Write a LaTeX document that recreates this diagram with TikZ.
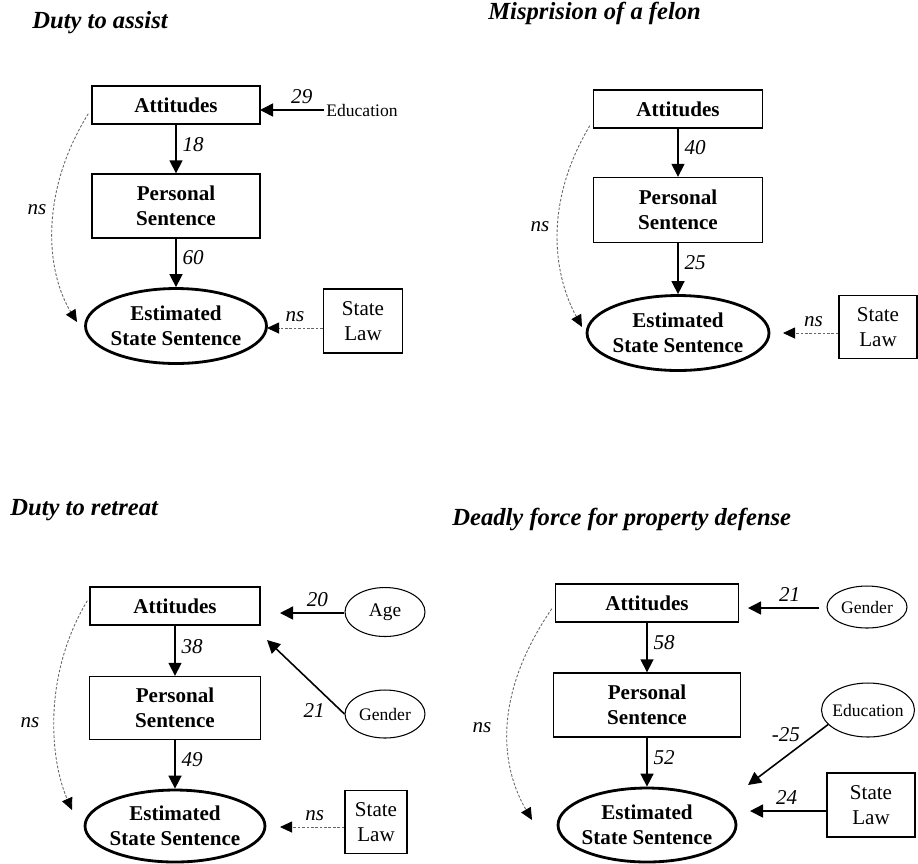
\documentclass[tikz,border=0pt]{standalone}
\usepackage{fontspec}
\setmainfont{Liberation Serif}
\usetikzlibrary{arrows.meta,shapes.geometric}

\begin{document}
\begin{tikzpicture}[x=0.02cm, y=-0.02cm,
    every node/.style={font=\fontsize{12}{14.2}\selectfont},
    attbox/.style={draw, line width=0.8pt, align=center, inner sep=0pt, font=\fontsize{12}{14.2}\selectfont\bfseries},
    lawbox/.style={draw, line width=0.8pt, align=center, inner sep=0pt},
    est/.style={ellipse, draw, line width=1.6pt, align=center, inner xsep=-2pt, inner ysep=0pt, font=\fontsize{12}{14.2}\selectfont\bfseries},
    extvar/.style={ellipse, draw, line width=0.6pt, inner xsep=-3pt, inner ysep=0pt, font=\fontsize{10}{12}\selectfont},
    link/.style={-{Triangle[length=0.26cm, width=0.26cm]}, line width=0.9pt},
    nsline/.style={-{Triangle[length=0.24cm, width=0.22cm, color=black]}, draw=black!60, line width=0.5pt, dash pattern=on 1.5pt off 1pt},
    coef/.style={font=\fontsize{12}{14.2}\selectfont\itshape},
    paneltitle/.style={anchor=base west, inner sep=0pt, font=\fontsize{14}{16}\selectfont\bfseries\itshape}]
    \useasboundingbox (0,0) rectangle (918,863);

    \node[paneltitle] (title1) at (32,28) {Duty to assist};
    \node[attbox, minimum width=3.36cm, minimum height=0.76cm] (att1) at (176,105) {Attitudes};
    \node[attbox, minimum width=3.36cm, minimum height=1.28cm] (pers1) at (176,206) {Personal\\Sentence};
    \node[est, minimum width=3.62cm, minimum height=1.5cm] (est1) at (176,326) {Estimated\\State Sentence};
    \node[lawbox, minimum width=1.58cm, minimum height=1.28cm] (law1) at (363,321) {State\\Law};
    \node[inner sep=1pt, font=\fontsize{10}{12}\selectfont] (edu1) at (362,110) {Education};
    \node[coef] (ns1) at (37,210) {ns};
    \coordinate (t1edu) at (260,110);
    \coordinate (t1law) at (267,328);
    \coordinate (t1ns) at (77,322);
    \draw[link] (edu1.west) -- (t1edu) node[coef, above, pos=0.35] (c1edu) {29};
    \draw[link] (att1) -- (pers1) node[coef, right, pos=0.4] (c1a) {18};
    \draw[link] (pers1) -- (est1) node[coef, right, pos=0.4] (c1b) {60};
    \draw[nsline] (law1.west |- t1law) -- (t1law) node[coef, above, pos=0.5] (c1law) {ns};
    \draw[nsline] ([shift={(-3,-11)}]att1.south west) .. controls +(-48,77) and +(-32,-52) .. (t1ns);

    \node[paneltitle] (title2) at (488,19) {Misprision of a felon};
    \node[attbox, minimum width=3.38cm, minimum height=0.76cm] (att2) at (678,109) {Attitudes};
    \node[attbox, minimum width=3.38cm, minimum height=1.3cm] (pers2) at (678,210) {Personal\\Sentence};
    \node[est, minimum width=3.64cm, minimum height=1.5cm] (est2) at (678,333) {Estimated\\State Sentence};
    \node[lawbox, minimum width=1.56cm, minimum height=1.26cm] (law2) at (878,327) {State\\Law};
    \node[coef] (ns2) at (540,227) {ns};
    \coordinate (t2law) at (783,333);
    \coordinate (t2ns) at (582,327);
    \draw[link] (att2) -- (pers2) node[coef, right, pos=0.4] (c2a) {40};
    \draw[link] (pers2) -- (est2) node[coef, right, pos=0.38] (c2b) {25};
    \draw[nsline] (law2.west |- t2law) -- (t2law) node[coef, above, pos=0.45] (c2law) {ns};
    \draw[nsline] ([shift={(-3,-3)}]att2.south west) .. controls +(-45,75) and +(-30,-55) .. (t2ns);

    \node[paneltitle] (title3) at (10,515) {Duty to retreat};
    \node[attbox, minimum width=3.4cm, minimum height=0.76cm] (att3) at (175,606) {Attitudes};
    \node[attbox, minimum width=3.42cm, minimum height=1.26cm] (pers3) at (175,708) {Personal\\Sentence};
    \node[est, minimum width=3.6cm, minimum height=1.44cm] (est3) at (175,826) {Estimated\\State Sentence};
    \node[extvar, minimum width=1.6cm, minimum height=0.98cm, font=\fontsize{11}{13}\selectfont] (age3) at (385,612) {Age};
    \node[extvar, minimum width=1.6cm, minimum height=0.96cm] (gen3) at (385,714) {Gender};
    \node[lawbox, minimum width=1.24cm, minimum height=1.26cm] (law3) at (376,822) {State\\Law};
    \node[coef] (ns3) at (30,723) {ns};
    \coordinate (t3age) at (280,613);
    \coordinate (t3gen) at (267,640);
    \coordinate (t3law) at (280,827);
    \coordinate (t3ns) at (72,810);
    \draw[link] (att3) -- (pers3) node[coef, right, pos=0.42] (c3a) {38};
    \draw[link] (pers3) -- (est3) node[coef, right, pos=0.4] (c3b) {49};
    \draw[link] (age3.west |- t3age) -- (t3age) node[coef, above, pos=0.42] (c3age) {20};
    \draw[link] (gen3.west) -- (t3gen) node[coef, anchor=north east, inner sep=2pt, pos=0.2] (c3gen) {21};
    \draw[nsline] (law3.west |- t3law) -- (t3law) node[coef, above, pos=0.46] (c3law) {ns};
    \draw[nsline] ([shift={(-2,-25)}]att3.south west) .. controls +(-45,75) and +(-22,-50) .. (t3ns);

    \node[paneltitle] (title4) at (452,525) {Deadly force for property defense};
    \node[attbox, minimum width=3.66cm, minimum height=0.76cm] (att4) at (647,603) {Attitudes};
    \node[attbox, minimum width=3.74cm, minimum height=1.28cm] (pers4) at (647,705) {Personal\\Sentence};
    \node[est, minimum width=3.56cm, minimum height=1.48cm] (est4) at (647,825) {Estimated\\State Sentence};
    \node[extvar, minimum width=1.6cm, minimum height=0.84cm] (gen4) at (867,607) {Gender};
    \node[extvar, minimum width=1.86cm, minimum height=1.08cm] (edu4) at (868,710) {Education};
    \node[lawbox, minimum width=1.76cm, minimum height=1.28cm] (law4) at (871,805) {State\\Law};
    \node[coef] (ns4) at (482,728) {ns};
    \coordinate (t4gen) at (748,608);
    \coordinate (t4edu) at (748,785);
    \coordinate (t4law) at (750,811);
    \coordinate (t4ns) at (532,820);
    \draw[link] (att4) -- (pers4) node[coef, right, pos=0.4] (c4a) {58};
    \draw[link] (pers4) -- (est4) node[coef, right, pos=0.4] (c4b) {52};
    \draw[link, shorten <=0.14cm] (gen4.west |- t4gen) -- (t4gen) node[coef, above, pos=0.47] (c4gen) {21};
    \draw[link] (edu4.200) -- (t4edu) node[coef, anchor=south east, inner sep=1pt, pos=0.32] (c4edu) {-25};
    \draw[link] (law4.west |- t4law) -- (t4law) node[coef, above, pos=0.52] (c4law) {24};
    \draw[nsline] ([shift={(-3,-14)}]att4.south west) .. controls +(-55,80) and +(-35,-60) .. (t4ns);
\end{tikzpicture}
\end{document}
